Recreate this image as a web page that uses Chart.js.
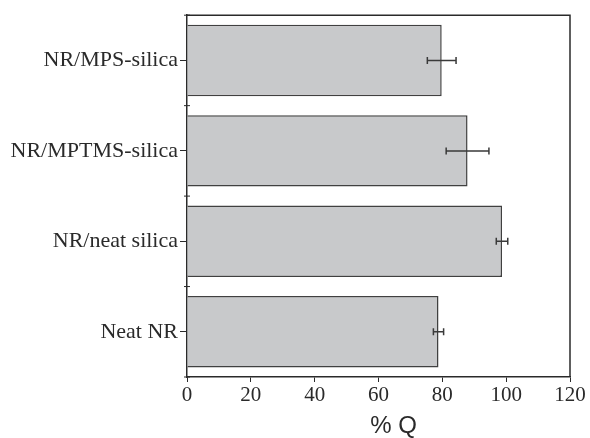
<!DOCTYPE html>
<html>
<head>
<meta charset="utf-8">
<script src="https://cdn.jsdelivr.net/npm/chart.js@4"></script>
<style>
  html, body { margin: 0; padding: 0; background: #fff; }
  #wrap { width: 590px; height: 438px; }
</style>
</head>
<body>
<div id="wrap"><canvas id="myChart" width="590" height="438"></canvas></div>
<script>
const samples = ['NR/MPS-silica', 'NR/MPTMS-silica', 'NR/neat silica', 'Neat NR'];
const swelling = [79.8, 87.9, 98.7, 78.8];
const swellingErr = [4.5, 6.7, 1.8, 1.6];
const xTicks = [0, 20, 40, 60, 80, 100, 120];

const ink = '#2a2a2a';
const serif = 'Liberation Serif';

// error bars, plot frame and small boundary ticks on the category axis
const extras = {
  id: 'extras',
  afterDatasetsDraw(chart) {
    const ctx = chart.ctx;
    const x = chart.scales.x, y = chart.scales.y;
    const area = chart.chartArea;
    ctx.save();
    ctx.strokeStyle = '#3a3a3a';
    ctx.lineWidth = 1.5;
    swelling.forEach((v, i) => {
      const yc = y.getPixelForValue(i);
      const x0 = x.getPixelForValue(v - swellingErr[i]);
      const x1 = x.getPixelForValue(v + swellingErr[i]);
      ctx.beginPath();
      ctx.moveTo(x0, yc); ctx.lineTo(x1, yc);
      ctx.moveTo(x0, yc - 3.5); ctx.lineTo(x0, yc + 3.5);
      ctx.moveTo(x1, yc - 3.5); ctx.lineTo(x1, yc + 3.5);
      ctx.stroke();
    });

    ctx.strokeStyle = ink;
    ctx.lineWidth = 1.5;
    ctx.beginPath();
    ctx.moveTo(area.left, area.top); ctx.lineTo(area.right, area.top);
    ctx.lineTo(area.right, area.bottom);
    ctx.stroke();

    ctx.lineWidth = 1;
    for (let i = 0; i <= samples.length; i++) {
      const yb = y.getPixelForValue(i - 0.5);
      ctx.beginPath();
      ctx.moveTo(area.left - 3, yb); ctx.lineTo(area.left + 3, yb);
      ctx.stroke();
    }

    ctx.fillStyle = ink;
    ctx.font = '24px "Liberation Sans"';
    ctx.textAlign = 'center';
    ctx.textBaseline = 'middle';
    ctx.fillText('% Q', (area.left + area.right) / 2 + 15, 426);
    ctx.restore();
  }
};

new Chart(document.getElementById('myChart'), {
  type: 'bar',
  data: {
    labels: samples,
    datasets: [{
      data: swelling,
      backgroundColor: '#c8c9cb',
      borderColor: '#404040',
      borderWidth: 1.5,
      categoryPercentage: 1,
      barPercentage: 0.79
    }]
  },
  options: {
    indexAxis: 'y',
    responsive: false,
    animation: false,
    layout: { padding: { top: 12, right: 20, left: 0, bottom: 0 } },
    plugins: {
      legend: { display: false },
      tooltip: { enabled: false }
    },
    scales: {
      x: {
        min: 0,
        max: 120,
        afterFit(s) { s.height = 61; },
        afterBuildTicks(s) {
          s.ticks = [];
          for (let v = 0; v <= 120; v += 10) s.ticks.push({ value: v });
        },
        ticks: {
          color: ink,
          font: { family: serif, size: 21 },
          padding: 1,
          maxRotation: 0,
          callback: v => xTicks.includes(v) ? String(v) : ''
        },
        grid: {
          drawOnChartArea: false,
          drawTicks: true,
          tickLength: 5,
          tickColor: ink,
          tickWidth: 1
        },
        border: { color: ink, width: 1.5 }
      },
      y: {
        afterFit(s) { s.width = 187; },
        ticks: {
          color: ink,
          font: { family: serif, size: 22 },
          padding: 2
        },
        grid: {
          drawOnChartArea: false,
          offset: false,
          drawTicks: true,
          tickLength: 7,
          tickColor: ink,
          tickWidth: 1
        },
        border: { color: ink, width: 1.5 }
      }
    }
  },
  plugins: [extras]
});
</script>
</body>
</html>
